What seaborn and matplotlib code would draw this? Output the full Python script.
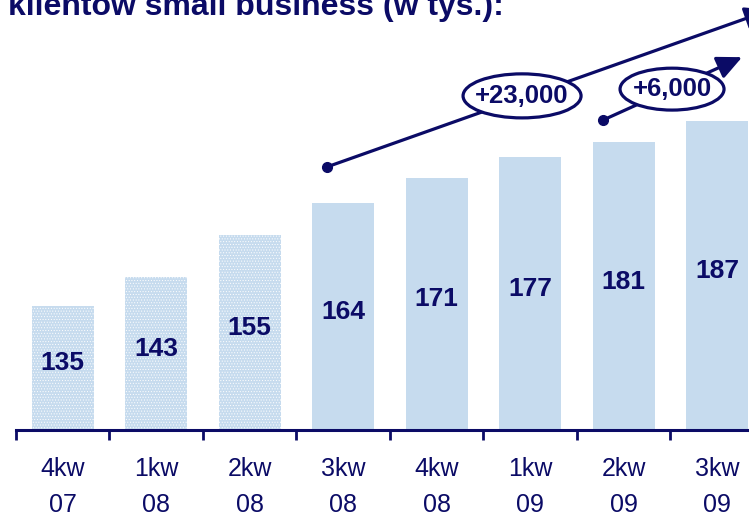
import matplotlib
matplotlib.use("Agg")
import matplotlib.pyplot as plt
import seaborn as sns
import pandas as pd
from matplotlib.patches import Ellipse

# ---------------- data ----------------
quarters = ["4kw\n07", "1kw\n08", "2kw\n08", "3kw\n08", "4kw\n08", "1kw\n09", "2kw\n09", "3kw\n09"]
clients = [135, 143, 155, 164, 171, 177, 181, 187]
dotted = [True, True, True, False, False, False, False, False]
title = "klientów small business (w tys.):"
growth_labels = ["+23,000", "+6,000"]

# ---------------- style ----------------
NAVY = "#0B0B66"
BLUE = "#C6DBEE"
sns.set_theme(style="white")
plt.rcParams["font.family"] = ["Liberation Sans", "DejaVu Sans"]
plt.rcParams["hatch.linewidth"] = 0.4

df = pd.DataFrame({"q": quarters, "v": clients})

fig = plt.figure(figsize=(7.49, 5.15), dpi=100)
ax = fig.add_axes([0, 0.165, 1, 0.835])

sns.barplot(data=df, x="q", y="v", color=BLUE, saturation=1, width=0.66, ax=ax)

for patch, d in zip(ax.patches, dotted):
    patch.set_linewidth(0)
    if d:
        patch.set_edgecolor("white")
        patch.set_hatch("......")
        if hasattr(patch, "set_hatchcolor"):
            patch.set_hatchcolor("white")

# axes styling
for s in ["left", "top", "right"]:
    ax.spines[s].set_visible(False)
ax.spines["bottom"].set_color(NAVY)
ax.spines["bottom"].set_linewidth(2.2)
ax.spines["bottom"].set_bounds(-0.5, 7.5)
ax.set_yticks([])
ax.set_xlabel("")
ax.set_ylabel("")
ax.set_xticks(range(len(quarters)))
ax.set_xticklabels(quarters, fontsize=18, color=NAVY, linespacing=1.6)
ax.tick_params(axis="x", which="major", length=0, pad=19.5)
ax.set_xticks([i - 0.5 for i in range(len(quarters) + 1)], minor=True)
ax.tick_params(axis="x", which="minor", length=7, width=2, color=NAVY, direction="out")
ax.tick_params(axis="x", which="both", bottom=True)

YBOT, YTOP = 100, 221.1

# value labels
for i, v in enumerate(clients):
    ax.text(i, (YBOT + v) / 2 + 1.3, f"{v}", ha="center", va="center",
            fontsize=19, fontweight="bold", color=NAVY, zorder=5)

# growth arrows
arrows = [((2.827, 174.1), (7.565, 218.3)), ((5.78, 187.3), (7.266, 205.0))]
ellipses = [((4.913, 194.1), 1.262, 12.4), ((6.517, 196.0), 1.112, 11.8)]
for (start, tip), (c, w, h), lab in zip(arrows, ellipses, growth_labels):
    ax.annotate("", xy=tip, xytext=start, annotation_clip=False, zorder=3,
                arrowprops=dict(arrowstyle="-|>,head_length=0.6,head_width=0.28",
                                lw=2.3, color=NAVY, mutation_scale=25,
                                shrinkA=0, shrinkB=0))
    ax.plot([start[0]], [start[1]], "o", color=NAVY, markersize=7, zorder=3, clip_on=False)
    ax.add_patch(Ellipse(c, w, h, facecolor="white", edgecolor=NAVY, lw=2.3, zorder=4, clip_on=False))
    ax.text(c[0], c[1], lab, ha="center", va="center", fontsize=18.5,
            fontweight="bold", color=NAVY, zorder=5)

ax.set_xlim(-0.67, 7.34)
ax.set_ylim(YBOT, YTOP)

fig.text(8 / 749, 1 - 15 / 515, title, fontsize=23, fontweight="bold",
         color=NAVY, ha="left", va="baseline")

fig.savefig("out.png", dpi=100)
